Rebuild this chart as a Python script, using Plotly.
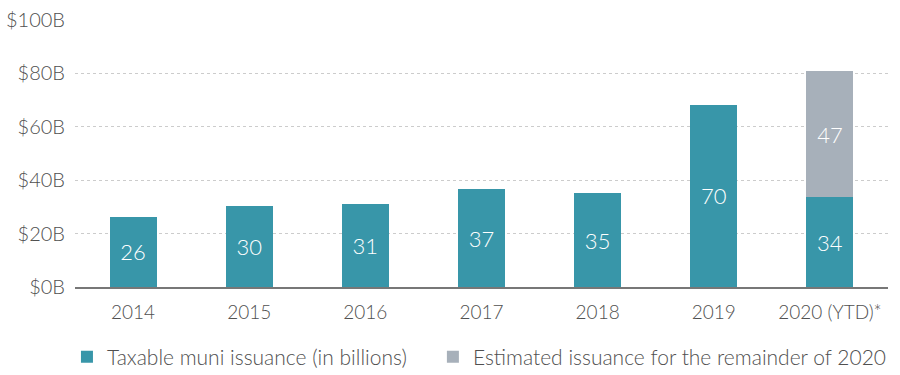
import plotly.graph_objects as go

years = ["2014", "2015", "2016", "2017", "2018", "2019", "2020 (YTD)*"]
issued_heights = [26.3, 30.3, 31.1, 36.7, 35.1, 68.2, 33.6]
issued_labels = ["26", "30", "31", "37", "35", "70", "34"]
estimate_heights = [None, None, None, None, None, None, 47.3]
estimate_labels = ["", "", "", "", "", "", "47"]
y_ticks = [0, 20, 40, 60, 80, 100]
y_tick_labels = ["$0B", "$20B", "$40B", "$60B", "$80B", "$100B"]

teal = "#3896A9"
grey = "#A7B0BA"
font_family = "Lato, 'Open Sans', sans-serif"
text_color = "#505050"

fig = go.Figure()
fig.add_trace(go.Bar(
    x=years, y=issued_heights, text=issued_labels,
    name="Taxable muni issuance (in billions)",
    legend="legend",
    marker=dict(color=teal, line=dict(width=0)),
    textposition="inside", insidetextanchor="middle",
    textfont=dict(color="white", size=22, family=font_family, weight=300),
    hoverinfo="skip",
))
fig.add_trace(go.Bar(
    x=years, y=estimate_heights, text=estimate_labels,
    name="Estimated issuance for the remainder of 2020",
    legend="legend2",
    marker=dict(color=grey, line=dict(width=0)),
    textposition="inside", insidetextanchor="middle",
    textfont=dict(color="white", size=22, family=font_family, weight=300),
    hoverinfo="skip",
))

legend_common = dict(
    orientation="h",
    xanchor="left",
    yref="container", y=0.048, yanchor="middle",
    font=dict(size=21, color=text_color, weight=300),
    bgcolor="rgba(0,0,0,0)",
)

fig.update_layout(
    barmode="stack",
    bargap=0.595,
    width=900, height=375,
    margin=dict(l=75, r=12, t=20, b=88, autoexpand=False),
    plot_bgcolor="white", paper_bgcolor="white",
    font=dict(family=font_family, color=text_color, size=19, weight=300),
    uniformtext=dict(minsize=8, mode="show"),
    showlegend=True,
    legend=dict(xref="container", x=0.0744, **legend_common),
    legend2=dict(xref="container", x=0.481, **legend_common),
    xaxis=dict(
        automargin=False,
        showgrid=False, showline=True, linecolor="#777777", linewidth=1.5,
        ticks="", tickfont=dict(size=19, color=text_color, weight=300),
        ticklabelstandoff=7,
    ),
    yaxis=dict(
        automargin=False,
        range=[0, 100], tickvals=y_ticks, ticktext=y_tick_labels,
        showgrid=True, gridcolor="#cccccc", griddash="dot", gridwidth=1,
        zeroline=False, showline=False, ticks="",
        tickfont=dict(size=20, color=text_color, weight=300), ticklabelstandoff=9,
    ),
)

fig.write_html(
    "out.html",
    config={"displayModeBar": False},
    post_script="document.body.style.margin='0px';document.body.style.padding='0px';",
)
